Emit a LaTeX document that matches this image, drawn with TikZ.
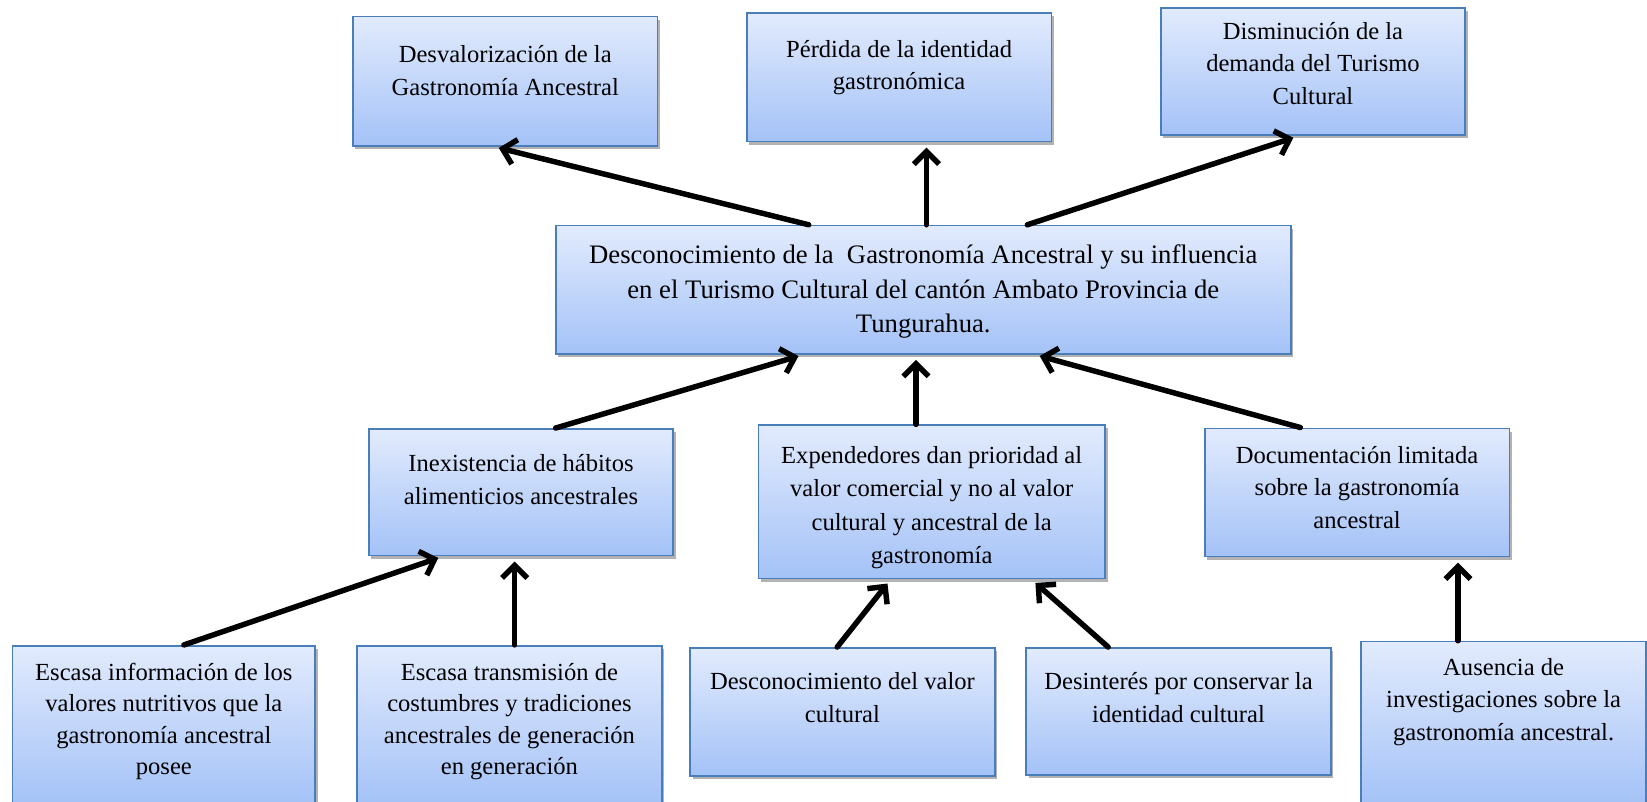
\documentclass[tikz,border=0pt]{standalone}
\usepackage{fontspec}
\setmainfont{Liberation Serif}
\usetikzlibrary{arrows.meta,shadows}

\definecolor{borde}{HTML}{4A7EBB}
\definecolor{arriba}{HTML}{E2EBFD}
\definecolor{abajo}{HTML}{A4C2F7}

\begin{document}
\begin{tikzpicture}[x=0.5pt,y=-0.5pt,
  caja/.style={draw=borde,line width=0.8pt,top color=arriba,bottom color=abajo,
    anchor=north,align=flush center,text width=145pt,inner sep=0pt,
    font=\fontsize{11.7}{15.5}\selectfont,
    drop shadow={shadow xshift=1.2pt,shadow yshift=-1.5pt,opacity=0.3,fill=black}},
  flecha/.style={line width=2.6pt,line cap=round,shorten >=2.5pt,
    -{Straight Barb[length=6pt,width=12pt]}}]
  \useasboundingbox (0,0) rectangle (1568,762.6);
  % efectos
  \node[caja,text height=22pt,text depth=39.5pt] (B1) at (481,15) {Desvalorización de la\\ Gastronomía Ancestral};
  \node[caja,text height=21pt,text depth=40.25pt] (B2) at (856,11.5) {Pérdida de la identidad\\ gastronómica};
  \node[caja,text height=15pt,text depth=45.75pt] (B3) at (1250,6.5) {Disminución de la\\ demanda del Turismo\\ Cultural};
  % problema central
  \node[caja,text width=350pt,text height=18pt,text depth=43pt,
    font=\fontsize{12.7}{16.5}\selectfont] (C) at (879,214) {Desconocimiento de la\ \ Gastronomía Ancestral y su influencia\\ en el Turismo Cultural del cantón Ambato Provincia de\\ Tungurahua.};
  % causas
  \node[caja,text height=20.5pt,text depth=39.75pt] (M1) at (496,407.5) {Inexistencia de hábitos\\ alimenticios ancestrales};
  \node[caja,text width=165pt,text height=18pt,text depth=55pt,
    font=\fontsize{11.7}{16}\selectfont] (M2) at (887,404) {Expendedores dan prioridad al\\ valor comercial y no al valor\\ cultural y ancestral de la\\ gastronomía};
  \node[caja,text height=16.5pt,text depth=44.5pt] (M3) at (1292,407) {Documentación limitada\\ sobre la gastronomía\\ ancestral};
  % subcausas
  \node[caja,text width=144pt,text height=16.5pt,text depth=59pt,
    font=\fontsize{11.7}{15}\selectfont] (L1) at (156,614) {Escasa información de los\\ valores nutritivos que la\\ gastronomía ancestral\\ posee};
  \node[caja,text height=16.5pt,text depth=59pt,
    font=\fontsize{11.7}{15}\selectfont] (L2) at (485,614) {Escasa transmisión de\\ costumbres y tradiciones\\ ancestrales de generación\\ en generación};
  \node[caja,text height=20pt,text depth=41pt] (L3) at (802,616) {Desconocimiento del valor\\ cultural};
  \node[caja,text height=20pt,text depth=40.5pt] (L4) at (1122,616) {Desinterés por conservar la\\ identidad cultural};
  \node[caja,text width=135.5pt,text height=16pt,text depth=61.5pt] (L5) at (1431.5,610) {Ausencia de\\ investigaciones sobre la\\ gastronomía ancestral.};

  \draw[flecha] ([xshift=-54.5pt]C.north) -- ([xshift=-5.5pt]B1.south);
  \draw[flecha] ([xshift=1.5pt]C.north) -- ([xshift=13pt]B2.south);
  \draw[flecha] ([xshift=49.5pt]C.north) -- ([xshift=-7pt]B3.south);

  \draw[flecha] ([xshift=16.5pt]M1.north) -- ([xshift=-57pt]C.south);
  \draw[flecha] ([xshift=-7.5pt]M2.north) -- ([xshift=-3.5pt]C.south);
  \draw[flecha] ([xshift=-27pt]M3.north) -- ([xshift=53pt]C.south);

  \draw[flecha] ([xshift=9.5pt]L1.north) -- ([xshift=-37pt]M1.south);
  \draw[flecha] ([xshift=2.5pt]L2.north) -- ([xshift=-3pt]M1.south);
  \draw[flecha] ([xshift=-2.5pt]L3.north) -- ([xshift=-19.5pt]M2.south);
  \draw[flecha] ([xshift=-33.5pt]L4.north) -- ([xshift=47.5pt]M2.south);
  \draw[flecha] ([xshift=-21.75pt]L5.north) -- ([xshift=48pt]M3.south);
\end{tikzpicture}
\end{document}
